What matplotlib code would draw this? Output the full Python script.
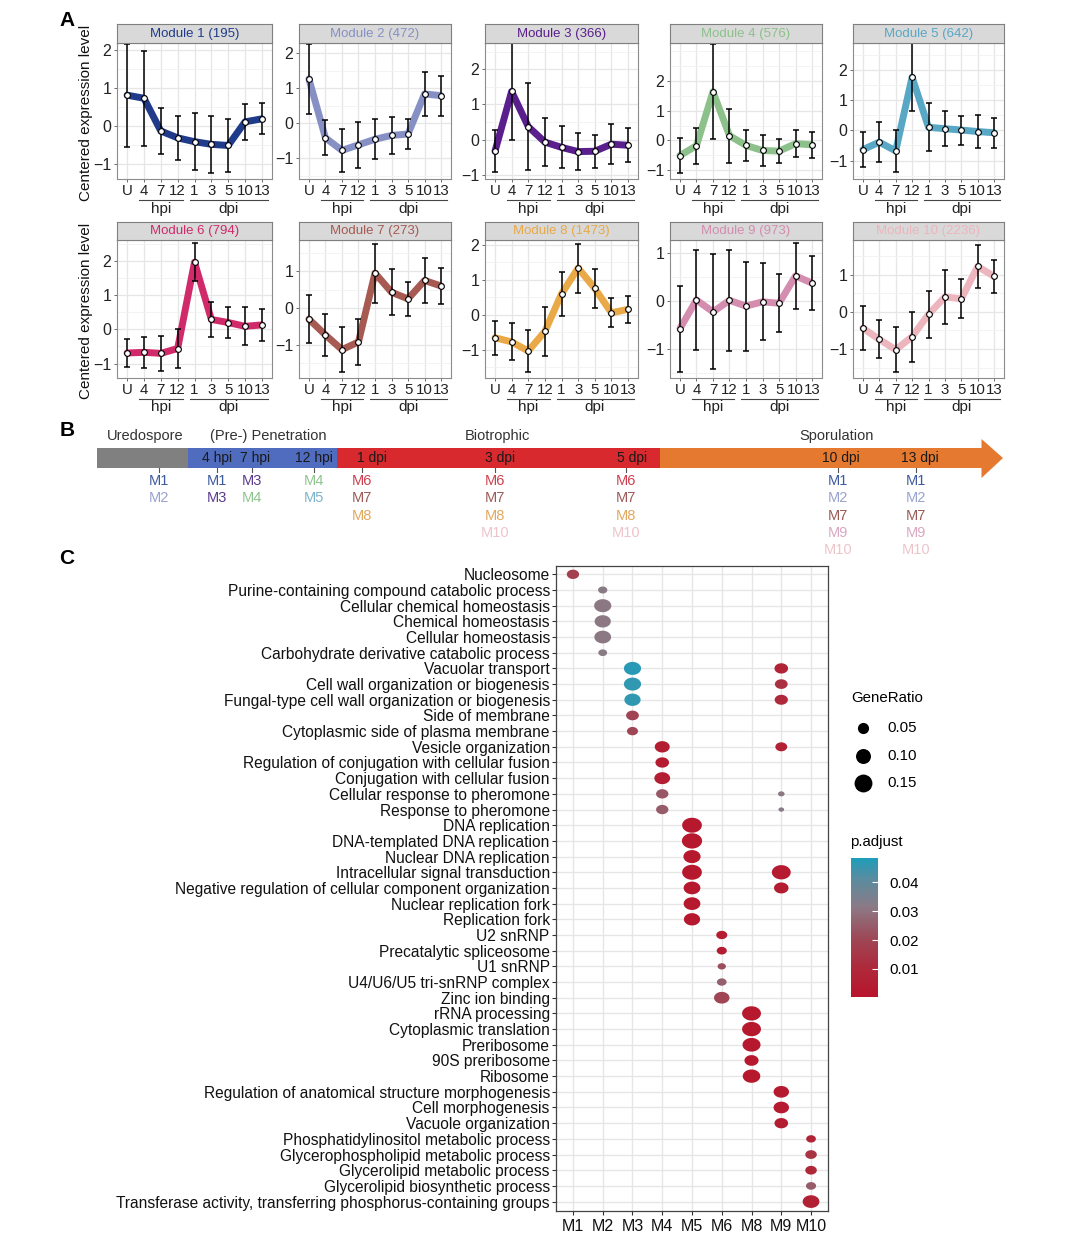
import numpy as np
import matplotlib
matplotlib.use("Agg")
import matplotlib.pyplot as plt
from matplotlib.path import Path
from matplotlib.colors import LinearSegmentedColormap, Normalize
from matplotlib.cm import ScalarMappable
from matplotlib.ticker import MultipleLocator, FixedLocator
from matplotlib import transforms
from matplotlib.patches import Rectangle, Polygon

plt.rcParams['font.family'] = ['Liberation Sans', 'DejaVu Sans']

# ---------------- Panel A data ----------------
TIMEPOINTS = ["U", "4", "7", "12", "1", "3", "5", "10", "13"]
MODULE_SIZES = [195, 472, 366, 576, 642, 794, 273, 1473, 973, 2236]
MODULE_COLORS = ["#1F3B8A", "#8790C5", "#5A1F8C", "#8DC18B", "#58A7C5",
                 "#D02A6A", "#A65A52", "#E9A947", "#D48DAF", "#EDB5BD"]
MEAN_M1 = [0.81, 0.73, -0.13, -0.31, -0.41, -0.48, -0.51, 0.11, 0.19]
SD_M1 = [1.35, 1.25, 0.61, 0.58, 0.75, 0.75, 0.69, 0.47, 0.41]
MEAN_M2 = [1.27, -0.42, -0.78, -0.62, -0.46, -0.35, -0.31, 0.84, 0.79]
SD_M2 = [1.0, 0.5, 0.61, 0.66, 0.58, 0.52, 0.42, 0.64, 0.57]
MEAN_M3 = [-0.33, 1.37, 0.37, -0.07, -0.22, -0.34, -0.33, -0.13, -0.16]
SD_M3 = [0.6, 1.37, 1.24, 0.68, 0.6, 0.53, 0.47, 0.57, 0.49]
MEAN_M4 = [-0.51, -0.18, 1.64, 0.16, -0.17, -0.34, -0.36, -0.11, -0.15]
SD_M4 = [0.6, 0.6, 1.6, 0.91, 0.53, 0.52, 0.41, 0.46, 0.43]
MEAN_M5 = [-0.64, -0.39, -0.68, 1.76, 0.10, 0.055, 0.01, -0.04, -0.08]
SD_M5 = [0.58, 0.67, 0.7, 1.12, 0.8, 0.57, 0.48, 0.56, 0.49]
MEAN_M6 = [-0.69, -0.67, -0.70, -0.56, 1.96, 0.29, 0.20, 0.09, 0.13]
SD_M6 = [0.4, 0.46, 0.52, 0.56, 0.56, 0.52, 0.45, 0.56, 0.47]
MEAN_M7 = [-0.30, -0.73, -1.13, -0.92, 0.95, 0.43, 0.25, 0.75, 0.60]
SD_M7 = [0.66, 0.56, 0.62, 0.62, 0.8, 0.62, 0.47, 0.6, 0.49]
MEAN_M8 = [-0.65, -0.77, -1.03, -0.47, 0.60, 1.34, 0.76, 0.06, 0.16]
SD_M8 = [0.48, 0.53, 0.61, 0.7, 0.64, 0.7, 0.55, 0.41, 0.38]
MEAN_M9 = [-0.57, 0.03, -0.22, 0.02, -0.10, -0.01, -0.04, 0.53, 0.38]
SD_M9 = [0.9, 1.05, 1.2, 1.05, 0.93, 0.8, 0.61, 0.69, 0.57]
MEAN_M10 = [-0.44, -0.74, -1.02, -0.67, -0.07, 0.40, 0.35, 1.22, 0.95]
SD_M10 = [0.59, 0.51, 0.61, 0.67, 0.64, 0.72, 0.52, 0.58, 0.44]
MEANS = [MEAN_M1, MEAN_M2, MEAN_M3, MEAN_M4, MEAN_M5,
         MEAN_M6, MEAN_M7, MEAN_M8, MEAN_M9, MEAN_M10]
SDS = [SD_M1, SD_M2, SD_M3, SD_M4, SD_M5, SD_M6, SD_M7, SD_M8, SD_M9, SD_M10]
YLIMS = [(-1.39, 2.18), (-1.60, 2.30), (-1.12, 2.75), (-1.30, 3.28), (-1.61, 2.89),
         (-1.42, 2.61), (-1.90, 1.85), (-1.80, 2.14), (-1.60, 1.28), (-1.78, 1.93)]
YBREAKS = [[-1, 0, 1, 2], [-1, 0, 1, 2], [-1, 0, 1, 2], [-1, 0, 1, 2], [-1, 0, 1, 2],
           [-1, 0, 1, 2], [-1, 0, 1], [-1, 0, 1, 2], [-1, 0, 1], [-1, 0, 1]]

# ---------------- Panel B data ----------------
STAGE_NAMES = ["Uredospore", "(Pre-) Penetration", "Biotrophic", "Sporulation"]
STAGE_COLORS = ["#808080", "#4F6CBE", "#D7292E", "#E5792F"]
TIME_LABELS = ["4 hpi", "7 hpi", "12 hpi", "1 dpi", "3 dpi", "5 dpi", "10 dpi", "13 dpi"]
GROUP_MODULES = [["M1", "M2"], ["M1", "M3"], ["M3", "M4"], ["M4", "M5"],
                 ["M6", "M7", "M8"], ["M6", "M7", "M8", "M10"], ["M6", "M7", "M8", "M10"],
                 ["M1", "M2", "M7", "M9", "M10"], ["M1", "M2", "M7", "M9", "M10"]]
B_COLORS = {"M1": "#3D5A9E", "M2": "#9AA2CE", "M3": "#5B3A8E", "M4": "#90C48E",
            "M5": "#7BB4CC", "M6": "#CF3F4E", "M7": "#9B5A55", "M8": "#E2A85E",
            "M9": "#D9A8C2", "M10": "#EEC4CB"}

# ---------------- Panel C data ----------------
TERMS = ["Nucleosome", "Purine-containing compound catabolic process",
         "Cellular chemical homeostasis", "Chemical homeostasis", "Cellular homeostasis",
         "Carbohydrate derivative catabolic process", "Vacuolar transport",
         "Cell wall organization or biogenesis", "Fungal-type cell wall organization or biogenesis",
         "Side of membrane", "Cytoplasmic side of plasma membrane", "Vesicle organization",
         "Regulation of conjugation with cellular fusion", "Conjugation with cellular fusion",
         "Cellular response to pheromone", "Response to pheromone", "DNA replication",
         "DNA-templated DNA replication", "Nuclear DNA replication",
         "Intracellular signal transduction",
         "Negative regulation of cellular component organization",
         "Nuclear replication fork", "Replication fork", "U2 snRNP",
         "Precatalytic spliceosome", "U1 snRNP", "U4/U6/U5 tri-snRNP complex",
         "Zinc ion binding", "rRNA processing", "Cytoplasmic translation", "Preribosome",
         "90S preribosome", "Ribosome", "Regulation of anatomical structure morphogenesis",
         "Cell morphogenesis", "Vacuole organization",
         "Phosphatidylinositol metabolic process", "Glycerophospholipid metabolic process",
         "Glycerolipid metabolic process", "Glycerolipid biosynthetic process",
         "Transferase activity, transferring phosphorus-containing groups"]
COLUMNS = ["M1", "M2", "M3", "M4", "M5", "M6", "M8", "M9", "M10"]
DOT_TERM = list(range(41)) + [6, 7, 8, 11, 14, 15, 19, 20]
DOT_MODULE = (["M1"] + ["M2"] * 5 + ["M3"] * 5 + ["M4"] * 5 + ["M5"] * 7 + ["M6"] * 5
              + ["M8"] * 5 + ["M9"] * 3 + ["M10"] * 5 + ["M9"] * 8)
DOT_RATIO = [0.032, 0.015, 0.072, 0.063, 0.068, 0.013,
             0.072, 0.072, 0.063, 0.035, 0.024,
             0.052, 0.041, 0.059, 0.032, 0.032,
             0.100, 0.105, 0.072, 0.100, 0.068, 0.068, 0.063,
             0.024, 0.019, 0.011, 0.017, 0.056,
             0.090, 0.090, 0.081, 0.045, 0.076,
             0.056, 0.056, 0.041,
             0.017, 0.027, 0.027, 0.019, 0.068,
             0.041, 0.035, 0.038, 0.029, 0.0054, 0.0031, 0.090, 0.048]
DOT_PADJ = [0.018, 0.032, 0.031, 0.031, 0.031, 0.032,
            0.047, 0.046, 0.046, 0.019, 0.020,
            0.005, 0.004, 0.005, 0.024, 0.025,
            0.002, 0.002, 0.002, 0.002, 0.002, 0.002, 0.002,
            0.004, 0.004, 0.022, 0.026, 0.020,
            0.002, 0.002, 0.002, 0.002, 0.002,
            0.003, 0.003, 0.004,
            0.008, 0.014, 0.009, 0.025, 0.006,
            0.008, 0.013, 0.010, 0.007, 0.031, 0.032, 0.003, 0.004]
SIZE_LEGEND = [0.05, 0.10, 0.15]
PADJ_TICKS = [0.01, 0.02, 0.03, 0.04]

# ---------------- figure ----------------
W, H = 1080, 1245
fig = plt.figure(figsize=(W / 100, H / 100), dpi=100)


def pax(x0, y0, x1, y1, **kw):
    return fig.add_axes([x0 / W, 1 - y1 / H, (x1 - x0) / W, (y1 - y0) / H], **kw)


ov = fig.add_axes([0, 0, 1, 1])
ov.set_xlim(0, W)
ov.set_ylim(H, 0)
ov.axis('off')

# ---- Panel A ----
COLS_X = [(117, 272), (299, 451), (485, 638), (670, 822), (853, 1004)]
ROWS_Y = [(24, 43, 179), (222, 240, 378)]
xs = np.arange(1, 10)
for i in range(10):
    r, c = divmod(i, 5)
    x0, x1 = COLS_X[c]
    st, pt, pb = ROWS_Y[r]
    col = MODULE_COLORS[i]
    ax = pax(x0, pt, x1, pb)
    ax.set_axisbelow(True)
    ax.plot(xs, MEANS[i], color=col, lw=5.0, solid_joinstyle='round',
            solid_capstyle='round', zorder=3)
    ax.errorbar(xs, MEANS[i], yerr=SDS[i], fmt='none', ecolor='black',
                elinewidth=1.1, capsize=2.5, capthick=1.1, zorder=4)
    ax.scatter(xs, MEANS[i], s=17, facecolor='white', edgecolor='black',
               linewidth=0.8, zorder=5)
    ax.set_xlim(0.4, 9.6)
    ax.set_ylim(*YLIMS[i])
    ax.set_xticks(xs)
    ax.set_xticklabels(TIMEPOINTS, fontsize=10.8)
    ax.yaxis.set_major_locator(FixedLocator(YBREAKS[i]))
    ax.yaxis.set_minor_locator(MultipleLocator(0.5))
    ax.tick_params(axis='y', labelsize=11.5, length=2.5, width=0.6, pad=1.5,
                   color='#555555', labelcolor='#222222')
    ax.tick_params(axis='y', which='minor', length=0)
    ax.tick_params(axis='x', length=2.5, width=0.6, pad=0.8, color='#555555',
                   labelcolor='#222222')
    ax.grid(which='major', color='#E6E6E6', lw=0.9)
    ax.grid(which='minor', axis='y', color='#F1F1F1', lw=0.6)
    for sp in ax.spines.values():
        sp.set_color('#8C8C8C')
        sp.set_linewidth(0.8)
    hgt = pb - pt
    trans = transforms.blended_transform_factory(ax.transData, ax.transAxes)
    yl = -20.5 / hgt
    yt = -29.5 / hgt
    ax.plot([1.73, 4.29], [yl, yl], transform=trans, color='#444444', lw=0.8, clip_on=False)
    ax.plot([4.71, 9.35], [yl, yl], transform=trans, color='#444444', lw=0.8, clip_on=False)
    ax.text(3, yt, 'hpi', transform=trans, ha='center', va='center', fontsize=11,
            color='#222222')
    ax.text(7, yt, 'dpi', transform=trans, ha='center', va='center', fontsize=11,
            color='#222222')
    sax = pax(x0, st, x1, pt)
    sax.set_facecolor('#D9D9D9')
    sax.set_xticks([])
    sax.set_yticks([])
    for sp in sax.spines.values():
        sp.set_color('#7F7F7F')
        sp.set_linewidth(0.8)
    sax.text(0.5, 0.48, f"Module {i + 1} ({MODULE_SIZES[i]})", ha='center', va='center',
             color=col, fontsize=9.5, transform=sax.transAxes)

for (st, pt, pb) in ROWS_Y:
    ov.text(86, (st + pb + 22) / 2, 'Centered expression level', rotation=90,
            ha='center', va='center', fontsize=11, color='#111111')

# ---- panel labels ----
ov.text(67, 20, 'A', fontsize=15, fontweight='bold', ha='center', va='center')
ov.text(67, 430, 'B', fontsize=15, fontweight='bold', ha='center', va='center')
ov.text(67, 558, 'C', fontsize=15, fontweight='bold', ha='center', va='center')

# ---- Panel B ----
STAGE_EDGES = [97, 188, 337, 660, 982]
STAGE_LABEL_X = [145, 268, 497, 837]
TIME_X = [217, 255, 314, 372, 500, 632, 841, 920]
GROUP_X = [159, 217, 252, 314, 362, 495, 626, 838, 916]
bar_top, bar_bot = 448, 468
for k in range(4):
    ov.add_patch(Rectangle((STAGE_EDGES[k], bar_top), STAGE_EDGES[k + 1] - STAGE_EDGES[k],
                           bar_bot - bar_top, facecolor=STAGE_COLORS[k], edgecolor='none'))
    ov.text(STAGE_LABEL_X[k], 436, STAGE_NAMES[k], ha='center', va='center',
            fontsize=10.5, color='#333333')
ov.add_patch(Polygon([(STAGE_EDGES[-1] - 0.5, 439), (1003, 458), (STAGE_EDGES[-1] - 0.5, 478)],
                     closed=True, facecolor=STAGE_COLORS[-1], edgecolor='none'))
for tx, tl in zip(TIME_X, TIME_LABELS):
    ov.text(tx, 458, tl, ha='center', va='center', fontsize=10, color='#1A1A1A')
for gx, mods in zip(GROUP_X, GROUP_MODULES):
    ov.plot([gx, gx], [bar_bot, bar_bot + 4], color='#555555', lw=0.8)
    for j, m in enumerate(mods):
        ov.text(gx, 481 + 17.3 * j, m, ha='center', va='center', fontsize=10.5,
                color=B_COLORS[m])

# ---- Panel C ----
cmap = LinearSegmentedColormap.from_list(
    'padj', [(0.0, '#B8142C'), (0.21, '#AE2A3A'), (0.42, '#9E4756'),
             (0.65, '#8B7A85'), (0.85, '#5A8C9F'), (1.0, '#1E9DBA')])
norm = Normalize(vmin=0.0003, vmax=0.0484)


def diam_px(g):
    return 2.0 + 41.0 * np.sqrt(np.asarray(g))


theta = np.linspace(0, 2 * np.pi, 64)
ASPECT = 1.32
ell = Path(np.column_stack([ASPECT * np.cos(theta), np.sin(theta)]), closed=True)

cax_ = pax(556, 566, 828, 1211)
cax_.set_axisbelow(True)
dx = [COLUMNS.index(m) + 1 for m in DOT_MODULE]
dy = [t + 1 for t in DOT_TERM]
sizes = (diam_px(DOT_RATIO) * ASPECT * 0.72) ** 2
cax_.scatter(dx, dy, s=sizes, c=DOT_PADJ, cmap=cmap, norm=norm, marker=ell,
             linewidths=0, zorder=3)
cax_.set_xlim(0.43, 9.57)
cax_.set_ylim(41.6, 0.47)
cax_.set_xticks(range(1, 10))
cax_.set_xticklabels(COLUMNS, fontsize=11.5)
cax_.set_yticks(range(1, 42))
cax_.set_yticklabels(TERMS, fontsize=11.2)
cax_.tick_params(axis='y', length=3, width=0.8, color='#333333', labelcolor='#111111', pad=1.5)
cax_.tick_params(axis='x', length=3, width=0.8, color='#333333', labelcolor='#111111', pad=3)
cax_.grid(True, color='#E6E6E6', lw=1.0)
for sp in cax_.spines.values():
    sp.set_color('#444444')
    sp.set_linewidth(0.9)

# size legend
ov.text(851, 698, 'GeneRatio', ha='left', va='center', fontsize=10.8)
for k, g in enumerate(SIZE_LEGEND):
    yy = 728 + 27.5 * k
    ov.scatter([863], [yy], s=(diam_px(g) * 0.72) ** 2, color='black', marker='o',
               linewidths=0)
    ov.text(887, yy, f"{g:.2f}", ha='left', va='center', fontsize=10.8)

# colorbar
ov.text(850, 842, 'p.adjust', ha='left', va='center', fontsize=10.8)
cbax = pax(851, 858, 878, 997)
cb = fig.colorbar(ScalarMappable(norm=norm, cmap=cmap), cax=cbax)
cb.outline.set_visible(False)
cb.set_ticks(PADJ_TICKS)
cb.set_ticklabels([f"{t:.2f}" for t in PADJ_TICKS])
cbax.tick_params(axis='y', direction='in', color='white', length=4, width=0.8,
                 labelsize=10.8, pad=8)

fig.savefig('out.png', dpi=100)
